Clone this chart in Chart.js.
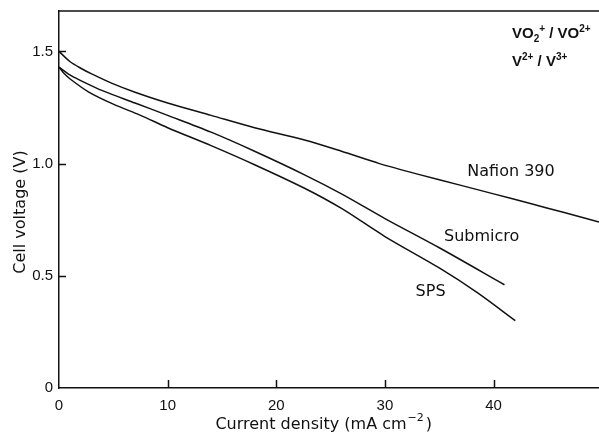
<!DOCTYPE html>
<html>
<head>
<meta charset="utf-8">
<script src="https://cdn.jsdelivr.net/npm/chart.js@4"></script>
<style>
  body { margin: 0; background: #fff; }
  #wrap { width: 599px; height: 432px; }
</style>
</head>
<body>
<div id="wrap"><canvas id="cellChart"></canvas></div>
<script>
// current density (mA cm-2) vs cell voltage (V)
const nafionX = [0, 1, 2, 3, 5, 7, 10, 14, 18, 22.6, 26, 29.5, 33, 37, 40, 43.3, 46.5, 49.7];
const nafionY = [1.50, 1.455, 1.425, 1.40, 1.355, 1.318, 1.27, 1.215, 1.16, 1.105, 1.055, 1.00, 0.953, 0.903, 0.865, 0.823, 0.782, 0.74];

const submicroX = [0, 1, 2, 4, 7, 10, 14, 18, 22.6, 26, 30, 35, 41];
const submicroY = [1.43, 1.395, 1.37, 1.325, 1.27, 1.215, 1.14, 1.055, 0.95, 0.865, 0.755, 0.625, 0.46];

const spsX = [0, 0.5, 1, 2.7, 5, 7.5, 10, 14, 18, 22.6, 26, 30, 35, 38.5, 42];
const spsY = [1.43, 1.40, 1.378, 1.32, 1.265, 1.215, 1.16, 1.08, 0.995, 0.89, 0.80, 0.675, 0.535, 0.425, 0.30];

const xTicks = [0, 10, 20, 30, 40];
const yTicks = [0, 0.5, 1.0, 1.5];
const yTickLabels = ["0", "0.5", "1.0", "1.5"];

const seriesNames = ["Nafion 390", "Submicro", "SPS"];
// where the curve names sit, in data units
const nameX = [41.6, 38.9, 34.2];
const nameY = [0.964, 0.674, 0.429];

function pts(xs, ys) {
  return xs.map((x, i) => ({ x: x, y: ys[i] }));
}

const lineFont = "16px 'DejaVu Sans'";
const tickFont = { family: "'Liberation Sans', sans-serif", size: 15 };

const decorPlugin = {
  id: "decor",
  afterDraw(chart) {
    const ctx = chart.ctx;
    const area = chart.chartArea;
    const xs = chart.scales.x;
    const ys = chart.scales.y;
    ctx.save();
    ctx.strokeStyle = "#111";
    ctx.lineWidth = 1.5;

    // top frame line
    ctx.beginPath();
    ctx.moveTo(area.left, area.top);
    ctx.lineTo(area.right, area.top);
    ctx.stroke();

    // inward tick marks
    ctx.beginPath();
    xTicks.forEach(v => {
      if (v === 0) return;
      const px = Math.round(xs.getPixelForValue(v)) + 0.5;
      ctx.moveTo(px, area.bottom);
      ctx.lineTo(px, area.bottom - 8);
    });
    yTicks.forEach(v => {
      if (v === 0) return;
      const py = Math.round(ys.getPixelForValue(v)) + 0.5;
      ctx.moveTo(area.left, py);
      ctx.lineTo(area.left + 7, py);
    });
    ctx.stroke();

    // curve names
    ctx.fillStyle = "#111";
    ctx.font = lineFont;
    ctx.textAlign = "center";
    ctx.textBaseline = "middle";
    seriesNames.forEach((n, i) => {
      ctx.fillText(n, xs.getPixelForValue(nameX[i]), ys.getPixelForValue(nameY[i]));
    });

    // axis titles
    ctx.textBaseline = "alphabetic";
    const cx = (area.left + area.right) / 2 - 18;
    ctx.fillText("Current density (mA cm", cx, 429);
    const w = ctx.measureText("Current density (mA cm").width;
    const tx = cx + w / 2;
    ctx.textAlign = "left";
    ctx.font = "11px 'DejaVu Sans'";
    ctx.fillText("\u22122", tx + 1, 421);
    const w2 = ctx.measureText("\u22122").width;
    ctx.font = lineFont;
    ctx.fillText(")", tx + 3 + w2, 429);

    ctx.save();
    ctx.translate(25, 212);
    ctx.rotate(-Math.PI / 2);
    ctx.textAlign = "center";
    ctx.fillText("Cell voltage (V)", 0, 0);
    ctx.restore();

    // electrolyte couples, top right
    const big = "bold 15px 'Liberation Sans'";
    const small = "bold 10px 'Liberation Sans'";
    function runs(list, x, y) {
      list.forEach(r => {
        ctx.font = r[1];
        ctx.fillText(r[0], x, y + r[2]);
        x += ctx.measureText(r[0]).width;
      });
    }
    ctx.textAlign = "left";
    runs([["VO", big, 0], ["2", small, 4], ["+", small, -6], [" / VO", big, 0], ["2+", small, -6]], area.right - 87, 38);
    runs([["V", big, 0], ["2+", small, -6], [" / V", big, 0], ["3+", small, -6]], area.right - 87, 66);
    ctx.restore();
  }
};

const lineStyle = {
  borderColor: "#111",
  borderWidth: 1.5,
  pointRadius: 0,
  fill: false,
  tension: 0.3
};

new Chart(document.getElementById("cellChart").getContext("2d"), {
  type: "line",
  data: {
    datasets: [
      Object.assign({ label: seriesNames[0], data: pts(nafionX, nafionY) }, lineStyle),
      Object.assign({ label: seriesNames[1], data: pts(submicroX, submicroY) }, lineStyle),
      Object.assign({ label: seriesNames[2], data: pts(spsX, spsY) }, lineStyle)
    ]
  },
  options: {
    responsive: true,
    maintainAspectRatio: false,
    animation: false,
    layout: { padding: { top: 11, right: 0, left: 0, bottom: 0 } },
    plugins: {
      legend: { display: false },
      tooltip: { enabled: false }
    },
    scales: {
      x: {
        type: "linear",
        min: 0,
        max: 49.7,
        afterBuildTicks: s => { s.ticks = xTicks.map(v => ({ value: v })); },
        afterFit: s => { s.height = 44; s.paddingLeft = 0; s.paddingRight = 0; },
        grid: { display: false, drawTicks: false },
        border: { display: true, color: "#111", width: 1.5 },
        ticks: { color: "#111", font: tickFont, padding: 9, maxRotation: 0 }
      },
      y: {
        type: "linear",
        min: 0,
        max: 1.68,
        afterBuildTicks: s => { s.ticks = yTicks.map(v => ({ value: v })); },
        afterFit: s => { s.width = 59; s.paddingTop = 0; s.paddingBottom = 0; },
        grid: { display: false, drawTicks: false },
        border: { display: true, color: "#111", width: 1.5 },
        ticks: {
          color: "#111",
          font: tickFont,
          padding: 6,
          callback: (v) => yTickLabels[yTicks.indexOf(v)]
        }
      }
    }
  },
  plugins: [decorPlugin]
});
</script>
</body>
</html>
